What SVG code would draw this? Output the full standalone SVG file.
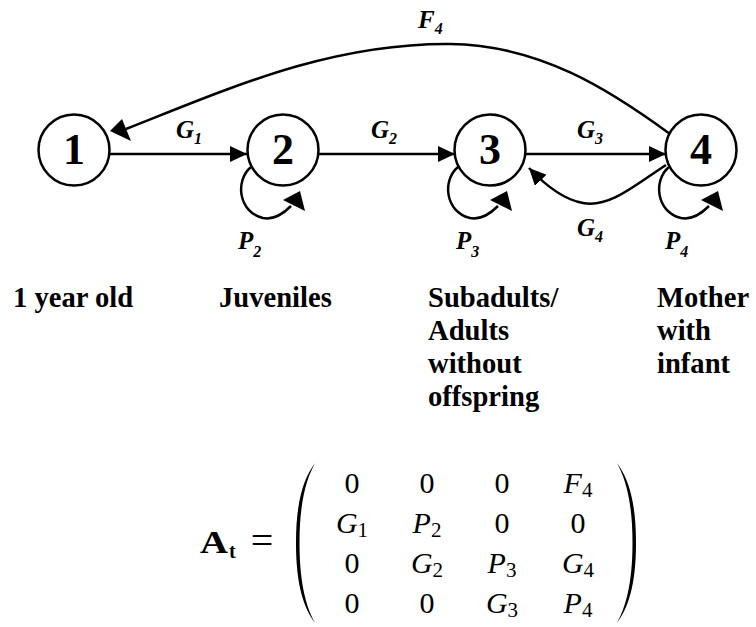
<svg xmlns="http://www.w3.org/2000/svg" width="756" height="627" viewBox="0 0 756 627">
<defs>
<marker id="ah" viewBox="0 0 17 16" refX="17" refY="8" markerWidth="17" markerHeight="16" markerUnits="userSpaceOnUse" orient="auto">
<path d="M0,0 L17,8 L0,16 z" fill="#000"/>
</marker>
<style>
.node circle{fill:#fff;stroke:#000;stroke-width:2.5}
.num{font-family:"Liberation Serif",serif;font-weight:bold;font-size:44px;text-anchor:middle}
.edge{fill:none;stroke:#000;stroke-width:2.5}
.head{fill:#000}
.lab{font-family:"Liberation Serif",serif;font-weight:bold;font-style:italic;font-size:25px}
.sub{font-size:16px}
.cap{font-family:"Liberation Serif",serif;font-weight:bold;font-size:28.6px}
.m{font-family:"Liberation Serif",serif;font-size:30px;text-anchor:middle}
.mi{font-style:italic}
.ms{font-size:21px;font-style:normal}
</style>
</defs>
<rect width="756" height="627" fill="#fff"/>
<g id="connectors">
<path class="edge" d="M110 154 H247" marker-end="url(#ah)"/>
<path class="edge" d="M319 154 H455" marker-end="url(#ah)"/>
<path class="edge" d="M526 154 H666" marker-end="url(#ah)"/>
<path class="edge" d="M670 134 C610 90 540 45 450 44 C330 43 230 88 126 129"/>
<polygon class="head" points="110,131 122,119 131,141"/>
<path class="edge" d="M666 165 C635 185 610 208 583 203 C565 200 548 188 529 168" marker-end="url(#ah)"/>
<path class="edge" d="M251 167 C235 180 238 212 263 218 C273 220 283 214 291 206"/>
<polygon class="head" points="283,200 300,191 305,211"/>
<path class="edge" d="M458 167 C442 180 445 212 470 218 C480 220 490 214 498 206"/>
<polygon class="head" points="490,200 507,191 512,211"/>
<path class="edge" d="M669 167 C653 180 656 212 681 218 C691 220 701 214 709 206"/>
<polygon class="head" points="701,200 718,191 723,211"/>
<text class="lab" x="418" y="28">F<tspan class="sub" dy="6">4</tspan></text>
<text class="lab" x="176" y="138">G<tspan class="sub" dy="6">1</tspan></text>
<text class="lab" x="371" y="138">G<tspan class="sub" dy="6">2</tspan></text>
<text class="lab" x="577" y="138">G<tspan class="sub" dy="6">3</tspan></text>
<text class="lab" x="577" y="236">G<tspan class="sub" dy="6">4</tspan></text>
<text class="lab" x="238" y="249">P<tspan class="sub" dy="8">2</tspan></text>
<text class="lab" x="456" y="249">P<tspan class="sub" dy="8">3</tspan></text>
<text class="lab" x="665" y="249">P<tspan class="sub" dy="8">4</tspan></text>
</g>
<g id="n1" class="node"><circle cx="74" cy="150" r="35.5"/><text class="num" x="74" y="164">1</text></g>
<g id="n2" class="node"><circle cx="283" cy="150" r="35.5"/><text class="num" x="283" y="164">2</text></g>
<g id="n3" class="node"><circle cx="490" cy="150" r="35.5"/><text class="num" x="490" y="164">3</text></g>
<g id="n4" class="node"><circle cx="701" cy="150" r="35.5"/><text class="num" x="701" y="164">4</text></g>
<g id="captions" class="cap">
<text x="13" y="307">1 year old</text>
<text x="219" y="307">Juveniles</text>
<text x="428" y="307">Subadults/</text>
<text x="428" y="340">Adults</text>
<text x="428" y="373">without</text>
<text x="428" y="406">offspring</text>
<text x="657" y="307">Mother</text>
<text x="657" y="340">with</text>
<text x="657" y="373">infant</text>
</g>
<g id="matrix">
<text x="200" y="553" font-family="Liberation Serif,serif" font-weight="bold" font-size="31" textLength="28" lengthAdjust="spacingAndGlyphs">A</text>
<text x="229" y="558" font-family="Liberation Serif,serif" font-weight="bold" font-size="20">t</text>
<text x="262" y="554" font-family="Liberation Serif,serif" font-size="40" text-anchor="middle">=</text>
<path d="M315 463 C304 478 296 500 296 543 C296 586 304 608 315 623 C307 608 299.5 586 299.5 543 C299.5 500 307 478 315 463 Z"/>
<path d="M617 463 C628 478 636 500 636 543 C636 586 628 608 617 623 C625 608 632.5 586 632.5 543 C632.5 500 625 478 617 463 Z"/>
<text class="m" x="352" y="493">0</text>
<text class="m" x="427" y="493">0</text>
<text class="m" x="502" y="493">0</text>
<text class="m" x="578" y="493"><tspan class="mi">F</tspan><tspan class="ms" dy="4">4</tspan></text>
<text class="m" x="352" y="533"><tspan class="mi">G</tspan><tspan class="ms" dy="4">1</tspan></text>
<text class="m" x="427" y="533"><tspan class="mi">P</tspan><tspan class="ms" dy="4">2</tspan></text>
<text class="m" x="502" y="533">0</text>
<text class="m" x="578" y="533">0</text>
<text class="m" x="352" y="573">0</text>
<text class="m" x="427" y="573"><tspan class="mi">G</tspan><tspan class="ms" dy="4">2</tspan></text>
<text class="m" x="502" y="573"><tspan class="mi">P</tspan><tspan class="ms" dy="4">3</tspan></text>
<text class="m" x="578" y="573"><tspan class="mi">G</tspan><tspan class="ms" dy="4">4</tspan></text>
<text class="m" x="352" y="613">0</text>
<text class="m" x="427" y="613">0</text>
<text class="m" x="502" y="613"><tspan class="mi">G</tspan><tspan class="ms" dy="4">3</tspan></text>
<text class="m" x="578" y="613"><tspan class="mi">P</tspan><tspan class="ms" dy="4">4</tspan></text>
</g>
</svg>
